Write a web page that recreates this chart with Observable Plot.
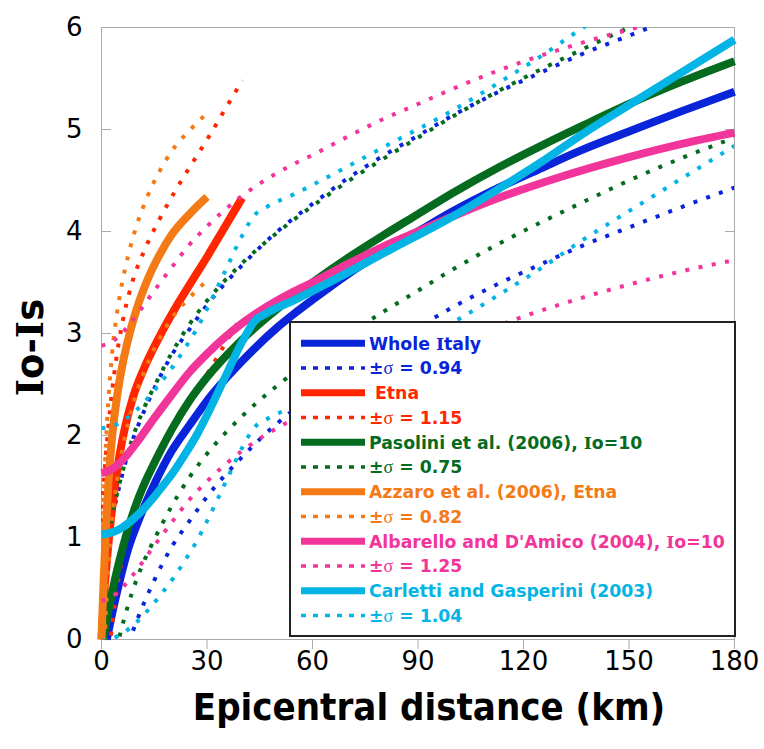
<!DOCTYPE html>
<html><head><meta charset="utf-8">
<script src="https://cdn.jsdelivr.net/npm/d3@7"></script>
<script src="https://cdn.jsdelivr.net/npm/@observablehq/plot@0.6"></script>
<style>
body{margin:0;background:#fff;}
#wrap{position:relative;width:764px;height:749px;}
#legend{position:absolute;left:289px;top:321px;}
</style></head><body><div id="wrap"></div>
<script>
// ---- data ----
const seriesNames = ["Whole Italy", "\u00a0Etna", "Pasolini et al. (2006), Io=10", "Azzaro et al. (2006), Etna", "Albarello and D'Amico (2004), Io=10", "Carletti and Gasperini (2003)"];
const seriesColors = ["#0a24d9", "#ff2600", "#056b1f", "#f47a16", "#f2359b", "#04b4e4"];
const sigmas = [0.94, 1.15, 0.75, 0.82, 1.25, 1.04];
const xTicks = [0, 30, 60, 90, 120, 150, 180];
const yTicks = [0, 1, 2, 3, 4, 5, 6];
const xTitle = "Epicentral distance (km)";
const yTitle = "Io-Is";

const wholeItalyD = [1.5, 3, 5, 7.5, 10, 12.5, 15, 20, 25, 30, 40, 50, 55, 60, 70, 80, 90, 100, 113, 125, 136, 150, 165, 180];
const wholeItalyV = [0, 0.25, 0.55, 0.88, 1.12, 1.33, 1.52, 1.85, 2.1, 2.34, 2.73, 3.06, 3.2, 3.33, 3.58, 3.8, 4.0, 4.2, 4.43, 4.62, 4.79, 4.98, 5.18, 5.37];

const etnaD = [0, 0.5, 1, 2, 3, 4, 5, 6.5, 9, 12, 16.5, 21, 26, 30, 35, 40];
const etnaV = [0, 0.3, 0.55, 0.95, 1.28, 1.55, 1.78, 2.05, 2.38, 2.65, 2.97, 3.25, 3.53, 3.75, 4.04, 4.33];

const pasoliniD = [0.5, 1.5, 3, 5, 7.5, 10, 12.5, 15, 20, 25, 30, 40, 50, 60, 70, 80, 90, 100, 113, 125, 137, 150, 165, 180];
const pasoliniV = [0, 0.2, 0.46, 0.76, 1.08, 1.34, 1.55, 1.73, 2.06, 2.34, 2.57, 2.94, 3.24, 3.5, 3.74, 3.96, 4.17, 4.38, 4.63, 4.84, 5.04, 5.25, 5.47, 5.67];

const azzaroD = [0, 0.3, 0.7, 1.3, 2, 3, 4.5, 6, 8, 10, 13, 16.5, 20, 25, 30];
const azzaroV = [0, 0.3, 0.65, 1.12, 1.55, 1.98, 2.4, 2.7, 3.0, 3.24, 3.52, 3.77, 3.97, 4.17, 4.34];

const albarelloD = [0, 3, 6, 10, 15, 20, 25, 30, 35, 40, 45, 54, 60, 70, 80, 90, 100, 113, 130, 150, 165, 180];
const albarelloV = [1.63, 1.67, 1.76, 1.93, 2.17, 2.4, 2.62, 2.8, 2.96, 3.1, 3.22, 3.4, 3.5, 3.68, 3.85, 4.0, 4.15, 4.33, 4.53, 4.73, 4.86, 4.97];

const carlettiD = [0, 3, 6, 9, 12, 15, 18, 21, 24, 27, 30, 35, 40, 43.5, 47, 55, 63, 82, 100, 113.5, 125, 137, 150, 165, 180];
const carlettiV = [1.03, 1.05, 1.1, 1.18, 1.28, 1.4, 1.53, 1.67, 1.83, 2.0, 2.2, 2.56, 2.92, 3.12, 3.2, 3.33, 3.47, 3.82, 4.15, 4.43, 4.68, 4.96, 5.24, 5.56, 5.88];

// ---- build ----
const curveD = [wholeItalyD, etnaD, pasoliniD, azzaroD, albarelloD, carlettiD];
const curveV = [wholeItalyV, etnaV, pasoliniV, azzaroV, albarelloV, carlettiV];
const series = seriesNames.map((name, i) => ({
  name, color: seriesColors[i], sigma: sigmas[i],
  rows: curveD[i].map((d, j) => ({d, v: curveV[i][j]}))
}));

const dash = "4,9.5";
const marks = [];
series.forEach(s => {
  marks.push(Plot.line(s.rows, {x: "d", y: "v", stroke: s.color, strokeWidth: 8, curve: "monotone-x", strokeLinecap: "butt"}));
  marks.push(Plot.line(s.rows, {x: "d", y: r => r.v + s.sigma, stroke: s.color, strokeWidth: 4, strokeDasharray: dash, strokeLinecap: "butt", curve: "monotone-x", clip: "frame"}));
  marks.push(Plot.line(s.rows, {x: "d", y: r => r.v - s.sigma, stroke: s.color, strokeWidth: 4, strokeDasharray: dash, strokeLinecap: "butt", curve: "monotone-x", clip: "frame"}));
});

const chart = Plot.plot({
  width: 764, height: 749,
  marginTop: 27, marginBottom: 110, marginLeft: 101, marginRight: 30,
  style: {fontFamily: "DejaVu Sans", background: "#fff", color: "#000"},
  x: {domain: [0, 180]},
  y: {domain: [0, 6]},
  marks: [
    Plot.frame({stroke: "#aaa"}),
    Plot.axisX({ticks: xTicks, tickFormat: "d", tickSize: 10, tickPadding: 2, fontSize: 26, stroke: "#aaa", label: null}),
    Plot.axisY({ticks: yTicks, tickFormat: "d", tickSize: 0, tickPadding: 19, fontSize: 26, label: null}),
    Plot.axisY({ticks: yTicks, tickSize: -10, fill: "none", stroke: "#aaa", label: null}),
    Plot.axisY({ticks: yTicks, anchor: "right", tickSize: -10, fill: "none", stroke: "#aaa", label: null}),
    ...marks,
    Plot.text([xTitle], {frameAnchor: "bottom", dx: 11, dy: 68, lineAnchor: "middle", textAnchor: "middle", fontSize: 38, fontWeight: "bold", fontFamily: "DejaVu Sans Condensed"}),
    Plot.text([yTitle], {frameAnchor: "left", dx: -70, dy: 14, rotate: -90, lineAnchor: "middle", textAnchor: "middle", fontSize: 37, fontWeight: "bold", fontFamily: "DejaVu Sans"})
  ]
});
document.getElementById("wrap").appendChild(chart);

// Verdana-like capital I with serifs: render each "I" with a slab-serif face
function serifI(textSel, str) {
  textSel.text(null);
  str.split(/(I)/).filter(p => p.length).forEach(p => {
    const ts = textSel.append("tspan").text(p);
    if (p === "I") ts.attr("font-family", "DejaVu Serif");
  });
}
d3.select(chart).selectAll("text").filter(function() { return this.textContent === yTitle; })
  .each(function() { serifI(d3.select(this), yTitle); });

// ---- legend ----
const lw = 447, lh = 316;
const leg = d3.select("#wrap").append("svg").attr("id", "legend").attr("width", lw).attr("height", lh);
leg.append("rect").attr("x", 1).attr("y", 1).attr("width", lw - 2).attr("height", lh - 2)
  .attr("fill", "#fff").attr("stroke", "#222").attr("stroke-width", 2);
const rowStep = 24.75, row0 = 22.3;
series.forEach((s, i) => {
  const y1 = row0 + (2 * i) * rowStep, y2 = y1 + rowStep;
  leg.append("line").attr("x1", 12).attr("x2", 76).attr("y1", y1).attr("y2", y1)
    .attr("stroke", s.color).attr("stroke-width", 7);
  leg.append("line").attr("x1", 12).attr("x2", 76).attr("y1", y2).attr("y2", y2)
    .attr("stroke", s.color).attr("stroke-width", 3.5).attr("stroke-dasharray", "5,7");
  const t1 = leg.append("text").attr("x", 80).attr("y", y1).attr("dy", "0.36em")
    .attr("fill", s.color).attr("font-family", "DejaVu Sans").attr("font-weight", "bold").attr("font-size", 17.3);
  serifI(t1, s.name);
  const t = leg.append("text").attr("x", 80).attr("y", y2).attr("dy", "0.36em")
    .attr("fill", s.color).attr("font-family", "DejaVu Sans").attr("font-weight", "bold").attr("font-size", 17.3);
  t.append("tspan").text("\u00b1");
  t.append("tspan").attr("font-family", "Liberation Serif").attr("font-weight", "normal").attr("font-size", 18).text("\u03c3");
  t.append("tspan").text(" = " + s.sigma.toFixed(2));
});
</script></body></html>
